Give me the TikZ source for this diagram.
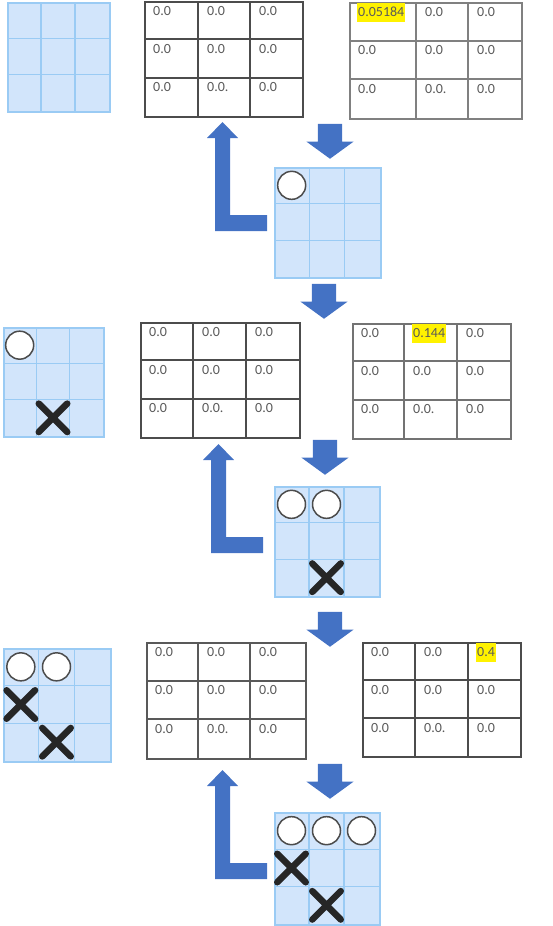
\documentclass[tikz,border=0pt]{standalone}
\usepackage{fontspec}
\setmainfont{Carlito}
\usetikzlibrary{shapes.arrows,shapes.misc}
\definecolor{boardfill}{HTML}{D2E5FB}
\definecolor{boardline}{HTML}{9ACBF4}
\definecolor{flowblue}{HTML}{4472C4}
\definecolor{celltext}{HTML}{5A5A5A}
\tikzset{
    board/.style = {draw=boardline, fill=boardfill, line width=2pt, rectangle, inner sep=0pt, anchor=north west},
    board-grid/.style = {draw=boardline, line width=1.2pt},
    qtable/.style = {fill=white, line width=2pt, rectangle, inner sep=0pt, anchor=north west},
    qcell/.style = {anchor=north west, inner xsep=1pt, inner ysep=3pt, text height=10pt, text depth=3pt, font=\fontsize{14}{16}\selectfont, text=celltext},
    qcell-hl/.style = {qcell, fill=yellow},
    stone-o/.style = {circle, draw=black!70, fill=white, line width=1.5pt, minimum size=28pt, inner sep=0pt},
    stone-x/.style = {cross out, draw=black!85, line width=6.5pt, line cap=round, minimum size=22pt, inner sep=0pt},
    down-arrow/.style = {single arrow, fill=flowblue, shape border rotate=270, inner sep=12pt, minimum height=35pt, single arrow head extend=11.5pt, single arrow tip angle=108, anchor=tip},
}
\begin{document}
\begin{tikzpicture}[x=1pt, y=-1pt]
\useasboundingbox (0,0) rectangle (552,926);

% boards
\foreach \bname/\bx/\by/\bw/\bh in {b1/7/2/102/109, b2/274/167/106/110, b3/3/327/100/109,
    b4/274/486/105/110, b5/3/648/107/113, b6/274/812/105/112}
{
  \node[board, minimum width=\bw pt, minimum height=\bh pt] (\bname) at (\bx,\by) {};
  \foreach \i in {1,2}
    \draw[board-grid] (\bx+\bw*\i/3,\by) -- (\bx+\bw*\i/3,\by+\bh)
                      (\bx,\by+\bh*\i/3) -- (\bx+\bw,\by+\bh*\i/3);
  \foreach \r in {0,1,2}
    \foreach \c in {0,1,2}
      \coordinate (\bname-\r\c) at (\bx+\bw*\c/3+\bw/6,\by+\bh*\r/3+\bh/6);
}

\node[stone-o] (b2-o1) at (b2-00) {};
\node[stone-o] (b3-o1) at (b3-00) {};
\node[stone-x] (b3-x1) at (b3-21) {};
\node[stone-o] (b4-o1) at (b4-00) {};
\node[stone-o] (b4-o2) at (b4-01) {};
\node[stone-x] (b4-x1) at (b4-21) {};
\node[stone-o] (b5-o1) at (b5-00) {};
\node[stone-o] (b5-o2) at (b5-01) {};
\node[stone-x] (b5-x1) at (b5-10) {};
\node[stone-x] (b5-x2) at (b5-21) {};
\node[stone-o] (b6-o1) at (b6-00) {};
\node[stone-o] (b6-o2) at (b6-01) {};
\node[stone-o] (b6-o3) at (b6-02) {};
\node[stone-x] (b6-x1) at (b6-10) {};
\node[stone-x] (b6-x2) at (b6-21) {};

% value tables
\foreach \tname/\tcol/\xa/\xb/\xc/\xd/\ya/\yb/\hk/\htext in {
    t1/black!70/144/198/250/302/1/116/9/{},
    t2/black!50/349/416/468/521/2/118/0/0.05184,
    t3/black!70/140/193/246/299/322/437/9/{},
    t4/black!55/352/404/457/510/323/438/1/0.144,
    t5/black!65/146/198/250/305/642/758/9/{},
    t6/black!70/362/415/468/520/642/756/2/0.4}
{
  \node[qtable, draw=\tcol, minimum width={(\xd-\xa)*1pt}, minimum height={(\yb-\ya)*1pt}] (\tname) at (\xa,\ya) {};
  \draw[\tcol, line width=2pt] (\xb,\ya) -- (\xb,\yb) (\xc,\ya) -- (\xc,\yb)
       (\xa,\ya+\yb/3-\ya/3) -- (\xd,\ya+\yb/3-\ya/3)
       (\xa,\ya+\yb*2/3-\ya*2/3) -- (\xd,\ya+\yb*2/3-\ya*2/3);
  \foreach \r in {0,1,2}
    \foreach \c/\cx in {0/\xa,1/\xb,2/\xc} {
      \pgfmathtruncatemacro\k{3*\r+\c}
      \pgfmathsetmacro\cy{\ya+(\yb-\ya)*\r/3}
      \ifnum\k=\hk
        \node[qcell-hl] (\tname-\k) at (\cx+8,\cy+1) {\htext};
      \else\ifnum\k=7
        \node[qcell] (\tname-\k) at (\cx+8,\cy+1) {0.0.};
      \else
        \node[qcell] (\tname-\k) at (\cx+8,\cy+1) {0.0};
      \fi\fi
    }
}

% arrows
\node[down-arrow] (d1) at (330,159) {};
\node[down-arrow] (d2) at (324,319) {};
\node[down-arrow] (d3) at (325,475) {};
\node[down-arrow] (d4) at (330,647) {};
\node[down-arrow] (d5) at (330,799) {};
\foreach \lx/\ly in {215/231, 211/553, 215/879}
  \fill[flowblue] (\lx,\ly) -- ++(52,0) -- ++(0,-16) -- ++(-37,0) -- ++(0,-77)
      -- ++(8,0) -- ++(-15.5,-16) -- ++(-15.5,16) -- ++(8,0) -- cycle;
\end{tikzpicture}
\end{document}
